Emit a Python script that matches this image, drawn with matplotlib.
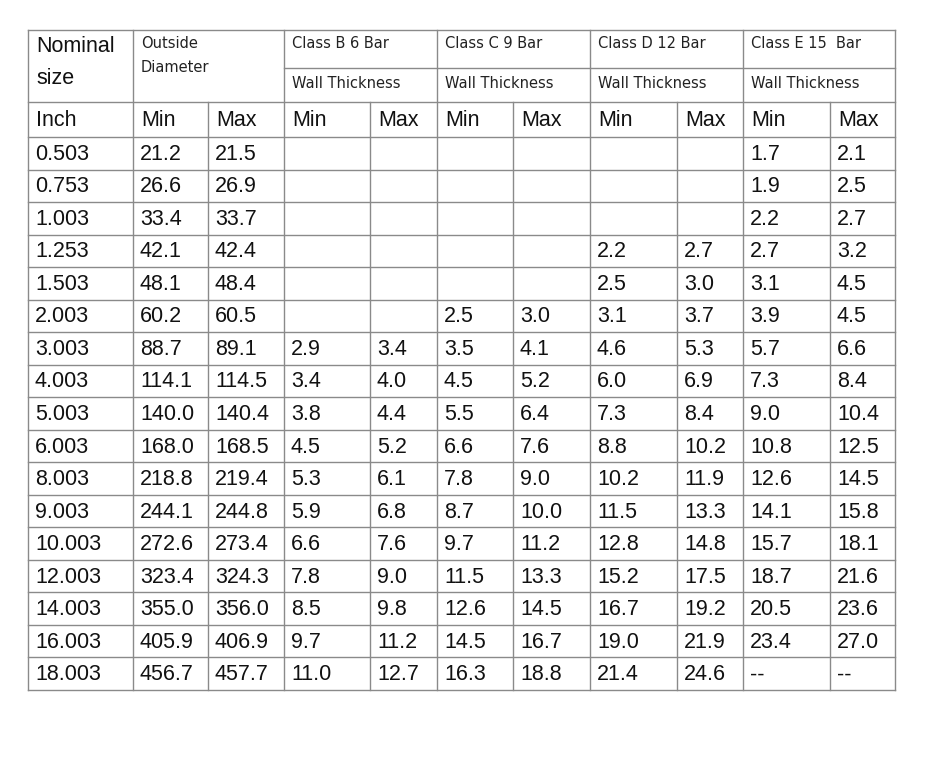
import matplotlib.pyplot as plt

nominal = ["0.503", "0.753", "1.003", "1.253", "1.503", "2.003", "3.003", "4.003", "5.003",
           "6.003", "8.003", "9.003", "10.003", "12.003", "14.003", "16.003", "18.003"]
od_min = ["21.2", "26.6", "33.4", "42.1", "48.1", "60.2", "88.7", "114.1", "140.0",
          "168.0", "218.8", "244.1", "272.6", "323.4", "355.0", "405.9", "456.7"]
od_max = ["21.5", "26.9", "33.7", "42.4", "48.4", "60.5", "89.1", "114.5", "140.4",
          "168.5", "219.4", "244.8", "273.4", "324.3", "356.0", "406.9", "457.7"]
b_min = [""] * 6 + ["2.9", "3.4", "3.8", "4.5", "5.3", "5.9", "6.6", "7.8", "8.5", "9.7", "11.0"]
b_max = [""] * 6 + ["3.4", "4.0", "4.4", "5.2", "6.1", "6.8", "7.6", "9.0", "9.8", "11.2", "12.7"]
c_min = [""] * 5 + ["2.5", "3.5", "4.5", "5.5", "6.6", "7.8", "8.7", "9.7", "11.5", "12.6", "14.5", "16.3"]
c_max = [""] * 5 + ["3.0", "4.1", "5.2", "6.4", "7.6", "9.0", "10.0", "11.2", "13.3", "14.5", "16.7", "18.8"]
d_min = [""] * 3 + ["2.2", "2.5", "3.1", "4.6", "6.0", "7.3", "8.8", "10.2", "11.5", "12.8", "15.2", "16.7", "19.0", "21.4"]
d_max = [""] * 3 + ["2.7", "3.0", "3.7", "5.3", "6.9", "8.4", "10.2", "11.9", "13.3", "14.8", "17.5", "19.2", "21.9", "24.6"]
e_min = ["1.7", "1.9", "2.2", "2.7", "3.1", "3.9", "5.7", "7.3", "9.0", "10.8", "12.6", "14.1",
         "15.7", "18.7", "20.5", "23.4", "--"]
e_max = ["2.1", "2.5", "2.7", "3.2", "4.5", "4.5", "6.6", "8.4", "10.4", "12.5", "14.5", "15.8",
         "18.1", "21.6", "23.6", "27.0", "--"]
classes = ["Class B 6 Bar", "Class C 9 Bar", "Class D 12 Bar", "Class E 15  Bar"]

columns = [nominal, od_min, od_max, b_min, b_max, c_min, c_max, d_min, d_max, e_min, e_max]
xs = [28, 133, 208, 284, 370, 437, 513, 590, 677, 743, 830, 895]
y_top, y_h1, y_h2, y_h3, y_bot = 30, 68, 102, 137, 690
row_h = (y_bot - y_h3) / len(nominal)

fig = plt.figure(figsize=(9.48, 7.82), dpi=100)
ax = fig.add_axes([0, 0, 1, 1])
ax.set_xlim(0, 948)
ax.set_ylim(782, 0)
ax.axis("off")

lc, lw = "#8a8a8a", 1.0
font = "Liberation Sans"
big = dict(fontsize=15.5, family=font, color="#111111", va="center", ha="left")
small = dict(fontsize=10.5, family="DejaVu Sans", color="#222222", va="center", ha="left")

# horizontal lines
ax.plot([xs[0], xs[-1]], [y_top, y_top], color=lc, lw=lw)
ax.plot([xs[3], xs[-1]], [y_h1, y_h1], color=lc, lw=lw)
ax.plot([xs[0], xs[-1]], [y_h2, y_h2], color=lc, lw=lw)
for i in range(len(nominal) + 1):
    y = y_h3 + i * row_h
    ax.plot([xs[0], xs[-1]], [y, y], color=lc, lw=lw)
# vertical lines
for i, x in enumerate(xs):
    top = y_top if i in (0, 1, 3, 5, 7, 9, 11) else y_h2
    ax.plot([x, x], [top, y_bot], color=lc, lw=lw)

# headers
ax.text(xs[0] + 8, 47, "Nominal", **big)
ax.text(xs[0] + 8, 78, "size", **big)
ax.text(xs[1] + 8, 43, "Outside", **small)
ax.text(xs[1] + 8, 67, "Diameter", **small)
for k, name in enumerate(classes):
    x0 = xs[3 + 2 * k]
    ax.text(x0 + 8, 43, name, **small)
    ax.text(x0 + 8, 83, "Wall Thickness", **small)
sub = ["Inch"] + ["Min", "Max"] * 5
for j, s in enumerate(sub):
    ax.text(xs[j] + 8, (y_h2 + y_h3) / 2 + 1, s, **big)

# body
for j, col in enumerate(columns):
    for i, v in enumerate(col):
        ax.text(xs[j] + 7, y_h3 + (i + 0.5) * row_h + 1, v, **big)

fig.savefig("out.png", dpi=100, facecolor="white")
